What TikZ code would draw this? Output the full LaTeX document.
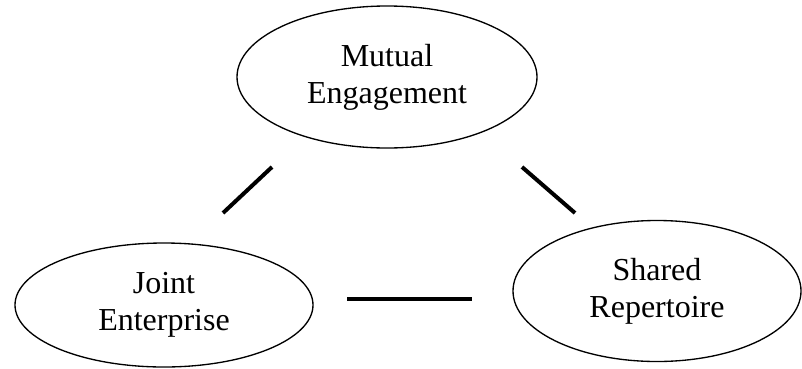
\documentclass[tikz,border=0pt]{standalone}
\usepackage{fontspec}
\setmainfont{Liberation Serif}
\usetikzlibrary{shapes.geometric}
\begin{document}
\begin{tikzpicture}[x=0.75pt,y=-0.75pt,
  bubble/.style={draw, ellipse, line width=1pt, inner sep=0pt, align=center,
    font=\fontsize{24}{27.6}\selectfont},
  link/.style={line width=3pt}]
\useasboundingbox (0,0) rectangle (802,368);
\node[bubble, minimum width=225pt, minimum height=106.5pt] (me) at (387,77) {Mutual\\Engagement};
\node[bubble, minimum width=223.5pt, minimum height=93pt] (je) at (164,305) {Joint\\Enterprise};
\node[bubble, minimum width=216pt, minimum height=105.75pt] (sr) at (657,291) {Shared\\Repertoire};
\coordinate (l1) at (272,167);
\coordinate (l2) at (223,213);
\coordinate (r1) at (522,167);
\coordinate (r2) at (575,213);
\coordinate (b1) at (347,299);
\coordinate (b2) at (472,299);
\draw[link] (l1) -- (l2);
\draw[link] (r1) -- (r2);
\draw[link] (b1) -- (b2);
\end{tikzpicture}
\end{document}
